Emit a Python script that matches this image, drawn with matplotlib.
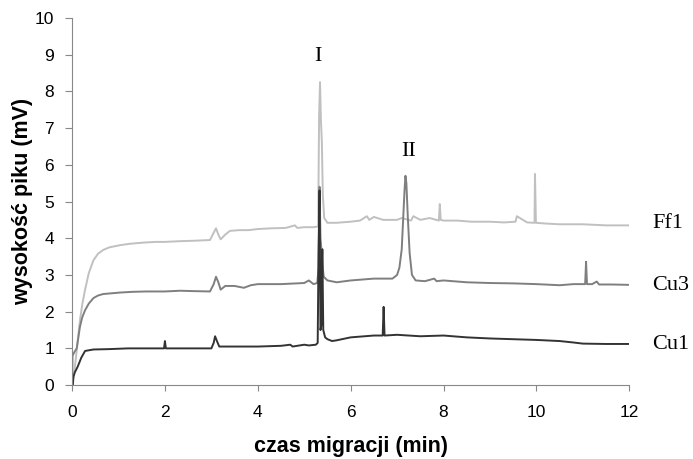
import matplotlib.pyplot as plt

# readings (time in min, height in mV)
ff1_t = [0.0, 0.04, 0.08, 0.12, 0.17, 0.22, 0.28, 0.36, 0.46, 0.56, 0.67, 0.8, 1.03, 1.25, 1.53, 1.8,
         2.0, 2.33, 2.6, 2.97, 3.05, 3.1, 3.15, 3.2, 3.3, 3.4, 3.6, 3.8, 4.0, 4.3, 4.6, 4.8, 4.85,
         5.0, 5.2, 5.3, 5.32, 5.34, 5.36, 5.38, 5.4, 5.43, 5.5, 5.7, 6.0, 6.2, 6.35, 6.4, 6.5, 6.7,
         7.0, 7.1, 7.3, 7.35, 7.5, 7.7, 7.9, 7.92, 7.94, 8.0, 8.3, 8.6, 9.0, 9.3, 9.55, 9.58, 9.8,
         9.96, 9.97, 9.99, 10.2, 10.5, 11.0, 11.5, 12.0]
ff1_v = [0.0, 0.3, 0.7, 1.2, 1.77, 2.2, 2.6, 3.05, 3.4, 3.58, 3.68, 3.75, 3.81, 3.85, 3.88, 3.9,
         3.9, 3.92, 3.93, 3.95, 4.15, 4.27, 4.1, 3.97, 4.1, 4.2, 4.22, 4.22, 4.25, 4.27, 4.28, 4.35, 4.28,
         4.3, 4.3, 4.32, 7.3, 8.25, 7.2, 6.6, 5.2, 4.55, 4.42, 4.42, 4.45, 4.48, 4.6, 4.5, 4.58, 4.5,
         4.5, 4.55, 4.48, 4.6, 4.5, 4.55, 4.48, 4.93, 4.5, 4.48, 4.48, 4.45, 4.45, 4.43, 4.45, 4.6, 4.43,
         4.42, 5.75, 4.42, 4.4, 4.38, 4.38, 4.35, 4.35]

cu3_t = [0.0, 0.01, 0.05, 0.1, 0.17, 0.22, 0.28, 0.36, 0.46, 0.56, 0.67, 0.85, 1.03, 1.3, 1.6,
         2.0, 2.33, 2.6, 2.97, 3.05, 3.1, 3.15, 3.2, 3.3, 3.5, 3.7, 3.85, 4.0, 4.5, 5.0, 5.1, 5.2,
         5.28, 5.31, 5.33, 5.35, 5.37, 5.39, 5.42, 5.5, 5.7, 6.0, 6.5, 6.9, 7.0, 7.05, 7.1, 7.13,
         7.16, 7.18, 7.2, 7.23, 7.27, 7.32, 7.4, 7.6, 7.8, 7.85, 8.0, 8.5, 9.0, 9.5, 10.0, 10.5,
         10.8, 11.05, 11.07, 11.09, 11.2, 11.3, 11.35, 11.6, 12.0]
cu3_v = [0.0, 0.8, 0.9, 1.0, 1.59, 1.85, 2.04, 2.22, 2.37, 2.44, 2.48, 2.5, 2.52, 2.54, 2.55,
         2.55, 2.57, 2.56, 2.55, 2.75, 2.95, 2.8, 2.6, 2.7, 2.7, 2.65, 2.72, 2.75, 2.75, 2.78, 2.85, 2.75,
         2.78, 3.2, 5.4, 4.0, 3.7, 3.3, 2.95, 2.85, 2.8, 2.85, 2.9, 2.9, 3.0, 3.2, 3.7, 4.5,
         5.3, 5.7, 5.5, 4.6, 3.6, 3.0, 2.85, 2.83, 2.9, 2.83, 2.85, 2.8, 2.78, 2.77, 2.75, 2.72,
         2.75, 2.75, 3.36, 2.75, 2.75, 2.82, 2.74, 2.74, 2.73]

cu1_t = [0.0, 0.01, 0.03, 0.06, 0.12, 0.2, 0.28, 0.46, 0.8, 1.2, 1.6, 1.98, 2.0, 2.02, 2.5,
         3.0, 3.05, 3.08, 3.12, 3.17, 3.3, 3.5, 4.0, 4.5, 4.7, 4.75, 5.0, 5.1, 5.25, 5.29, 5.31,
         5.33, 5.35, 5.37, 5.39, 5.41, 5.45, 5.5, 5.6, 5.7, 6.0, 6.3, 6.5, 6.69, 6.71, 6.73, 7.0,
         7.5, 8.0, 8.5, 9.0, 9.5, 10.0, 10.5, 10.8, 11.0, 11.5, 12.0]
cu1_v = [0.0, -0.1, 0.23, 0.35, 0.5, 0.75, 0.93, 0.97, 0.98, 1.0, 1.0, 1.0, 1.2, 1.0, 1.0,
         1.0, 1.15, 1.33, 1.2, 1.05, 1.05, 1.05, 1.05, 1.07, 1.1, 1.05, 1.1, 1.08, 1.1, 1.15, 3.8,
         5.3, 1.5, 1.65, 3.7, 1.5, 1.3, 1.25, 1.2, 1.22, 1.3, 1.33, 1.35, 1.35, 2.13, 1.35, 1.37,
         1.33, 1.35, 1.3, 1.27, 1.25, 1.23, 1.2, 1.16, 1.13, 1.12, 1.12]

series_names = ['Ff1', 'Cu3', 'Cu1']
series_colors = ['#c0c0c0', '#7f7f7f', '#333333']
label_levels = [4.4, 2.7, 1.1]

peak_names = ['I', 'II']
peak_t = [5.3, 7.25]
peak_v = [8.95, 6.35]

fig = plt.figure(figsize=(6.93, 4.59), dpi=100)
ax = fig.add_axes([0.104, 0.161, 0.804, 0.800])

for t, v, c in zip([ff1_t, cu3_t, cu1_t], [ff1_v, cu3_v, cu1_v], series_colors):
    ax.plot(t, v, color=c, lw=1.4)

for name, lvl in zip(series_names, label_levels):
    ax.text(12.5, lvl, name, family='Liberation Serif', fontsize=16, va='center', ha='left', clip_on=False)
for name, t, v in zip(peak_names, peak_t, peak_v):
    ax.text(t, v, name, family='Liberation Serif', fontsize=16, va='center', ha='center')

ax.set_xlim(0, 12)
ax.set_ylim(0, 10)
ax.set_xticks(range(0, 13, 2))
ax.set_yticks(range(0, 11))
for s in ['top', 'right']:
    ax.spines[s].set_visible(False)
for s in ['left', 'bottom']:
    ax.spines[s].set_color('#888888')
ax.tick_params(axis='y', length=5, color='#888888', labelsize=12.5, pad=8)
ax.tick_params(axis='x', length=4, color='#888888', labelsize=12.5, pad=10)
for lab in ax.get_xticklabels() + ax.get_yticklabels():
    lab.set_family('Liberation Sans')

ax.set_xlabel('czas migracji (min)', family='Liberation Sans', fontsize=15.5, fontweight='bold', labelpad=12)
ax.set_ylabel('wysokość piku (mV)', family='Liberation Sans', fontsize=15.5, fontweight='bold', labelpad=1)

fig.savefig('out.png', dpi=100)
